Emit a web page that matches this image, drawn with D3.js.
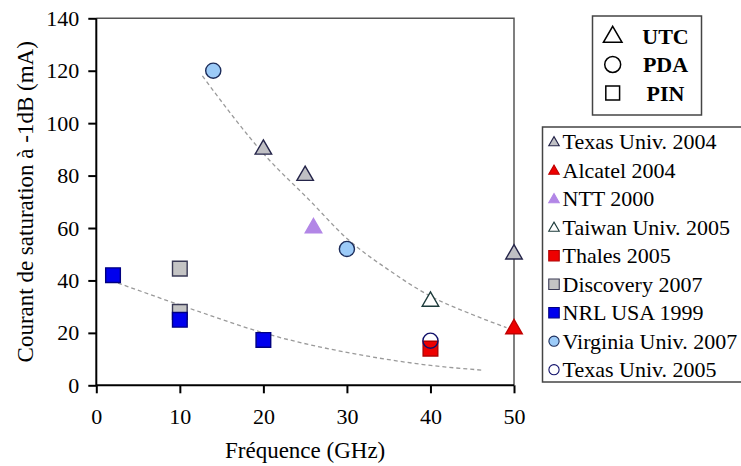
<!DOCTYPE html>
<html>
<head>
<meta charset="utf-8">
<script src="https://cdn.jsdelivr.net/npm/d3@7"></script>
<style>
  html, body { margin: 0; padding: 0; background: #fff; }
  svg { display: block; }
  svg text { font-family: "Liberation Serif", "Times New Roman", Times, serif !important; fill: #000; }
</style>
</head>
<body>
<svg id="chart" width="741" height="466"></svg>
<script>
// ---- data ----
const xTicks = [0, 10, 20, 30, 40, 50];
const yTicks = [0, 20, 40, 60, 80, 100, 120, 140];

const texasUniv2004 = [[20, 90], [25, 80], [50, 50]];
const alcatel2004   = [[50, 21.5]];
const ntt2000       = [[26, 60]];
const taiwanUniv2005 = [[40, 32]];
const thales2005    = [[40, 14]];
const discovery2007 = [[10, 44.5], [10, 28]];
const nrlUsa1999    = [[2, 42], [10, 25], [20, 17.3]];
const virginiaUniv2007 = [[14, 120], [30, 52]];
const texasUniv2005 = [[40, 17]];

// dashed trend curves
const trendUpper = [[12.7, 118], [20.4, 87], [25.4, 71], [30, 56], [35, 44], [40, 34], [45, 27], [49.1, 22]];
const trendLower = [[2.6, 39], [12.4, 28], [20, 20], [32.7, 11], [40, 7.6], [46.1, 5.8]];

const legendNames = ["Texas Univ. 2004", "Alcatel 2004", "NTT 2000", "Taiwan Univ. 2005",
  "Thales 2005", "Discovery 2007", "NRL USA 1999", "Virginia Univ. 2007", "Texas Univ. 2005"];
const typeNames = ["UTC", "PDA", "PIN"];

// ---- styles ----
const FONT = "'Liberation Serif', 'Times New Roman', Times, serif";
const series = [
  {name: legendNames[0], data: texasUniv2004, shape: "tri", fill: "#c0c0c4", stroke: "#25254a"},
  {name: legendNames[1], data: alcatel2004, shape: "tri", fill: "#ee0000", stroke: "#c00000"},
  {name: legendNames[2], data: ntt2000, shape: "tri", fill: "#b286e6", stroke: "#b286e6"},
  {name: legendNames[3], data: taiwanUniv2005, shape: "tri", fill: "#ffffff", stroke: "#1d3b3b"},
  {name: legendNames[4], data: thales2005, shape: "sq", fill: "#ee0000", stroke: "#b00000"},
  {name: legendNames[5], data: discovery2007, shape: "sq", fill: "#c4c4c4", stroke: "#3a3a55"},
  {name: legendNames[6], data: nrlUsa1999, shape: "sq", fill: "#0000ee", stroke: "#000080"},
  {name: legendNames[7], data: virginiaUniv2007, shape: "circ", fill: "#9ccbf8", stroke: "#1c2c5a"},
  {name: legendNames[8], data: texasUniv2005, shape: "circ", fill: "none", stroke: "#10106a", legendFill: "#ffffff"}
];
const drawOrder = [5, 6, 4, 8, 7, 0, 2, 3, 1];

const svg = d3.select("#chart");
const x = d3.scaleLinear().domain([0, 50]).range([96.3, 514]);
const y = d3.scaleLinear().domain([0, 140]).range([385.3, 18.3]);

const symType = {tri: d3.symbolTriangle, sq: d3.symbolSquare, circ: d3.symbolCircle};
const plotSize = {tri: 118, sq: 215, circ: 180};
const legSize = {tri: 48, sq: 110, circ: 82};

// frame (top/right)
svg.append("path")
  .attr("d", `M${x(0)},${y(140)}H${x(50)}V${y(0)}`)
  .attr("fill", "none").attr("stroke", "#555").attr("stroke-width", 1.5);

// trend lines
const line = d3.line().x(d => x(d[0])).y(d => y(d[1])).curve(d3.curveMonotoneX);
[trendUpper, trendLower].forEach(t => {
  svg.append("path").attr("d", line(t)).attr("fill", "none")
    .attr("stroke", "#9a9a9a").attr("stroke-width", 1.3).attr("stroke-dasharray", "4,3");
});

// axes
const xAxis = svg.append("g").attr("transform", `translate(0,${y(0)})`)
  .call(d3.axisBottom(x).tickValues(xTicks).tickSize(8).tickPadding(15).tickFormat(d3.format("d")));
const yAxis = svg.append("g").attr("transform", `translate(${x(0)},0)`)
  .call(d3.axisLeft(y).tickValues(yTicks).tickSize(8).tickPadding(9).tickFormat(d3.format("d")));
[xAxis, yAxis].forEach(a => {
  a.attr("font-family", null).attr("font-size", null);
  a.select(".domain").attr("stroke", "#000").attr("stroke-width", 2);
  a.selectAll(".tick line").attr("stroke", "#000").attr("stroke-width", 2);
  a.selectAll(".tick text").style("font-size", "22px").style("font-family", FONT).attr("fill", "#000");
});
xAxis.select(".domain").attr("d", `M${x(0)},0H${x(50)}`);
yAxis.select(".domain").attr("d", `M0,${y(0)}V${y(140)}`);

// axis titles
svg.append("text").attr("x", (x(0) + x(50)) / 2).attr("y", 458)
  .attr("text-anchor", "middle").style("font-size", "23px").style("font-family", FONT).text("Fréquence (GHz)");
svg.append("text").attr("transform", `translate(33,${(y(0) + y(140)) / 2}) rotate(-90)`)
  .attr("text-anchor", "middle").style("font-size", "23px").style("font-family", FONT)
  .text("Courant de saturation à -1dB (mA)");

// points
drawOrder.forEach(i => {
  const s = series[i];
  svg.append("g").selectAll("path").data(s.data).enter().append("path")
    .attr("d", d3.symbol().type(symType[s.shape]).size(plotSize[s.shape]))
    .attr("transform", d => `translate(${x(d[0])},${y(d[1])})`)
    .attr("fill", s.fill).attr("stroke", s.stroke).attr("stroke-width", 1.4);
});

// legend 1: types
svg.append("rect").attr("x", 592.5).attr("y", 16).attr("width", 109).attr("height", 99)
  .attr("fill", "#fff").attr("stroke", "#444").attr("stroke-width", 1.5);
const typeShapes = ["tri", "circ", "sq"];
const typeSizes = {tri: 150, circ: 200, sq: 190};
typeNames.forEach((n, i) => {
  const cy = 36 + i * 28.5;
  svg.append("path")
    .attr("d", d3.symbol().type(symType[typeShapes[i]]).size(typeSizes[typeShapes[i]]))
    .attr("transform", `translate(612.7,${cy + (i === 0 ? 1 : 0)})`)
    .attr("fill", "none").attr("stroke", "#000").attr("stroke-width", 1.5);
  svg.append("text").attr("x", 665.5).attr("y", cy + 7.5).attr("text-anchor", "middle")
    .style("font-size", "22px").style("font-weight", "bold").style("font-family", FONT).text(n);
});

// legend 2: series
svg.append("rect").attr("x", 542.5).attr("y", 127).attr("width", 210).attr("height", 255)
  .attr("fill", "#fff").attr("stroke", "#444").attr("stroke-width", 1.5);
series.forEach((s, i) => {
  const cy = 141.7 + i * 28.5;
  svg.append("path")
    .attr("d", d3.symbol().type(symType[s.shape]).size(legSize[s.shape]))
    .attr("transform", `translate(554,${cy + (s.shape === "tri" ? 1 : 0)})`)
    .attr("fill", s.legendFill || s.fill).attr("stroke", s.stroke).attr("stroke-width", 1.1);
  svg.append("text").attr("x", 562.5).attr("y", cy + 7.3)
    .style("font-size", "22px").style("font-family", FONT).text(s.name);
});
</script>
</body>
</html>
